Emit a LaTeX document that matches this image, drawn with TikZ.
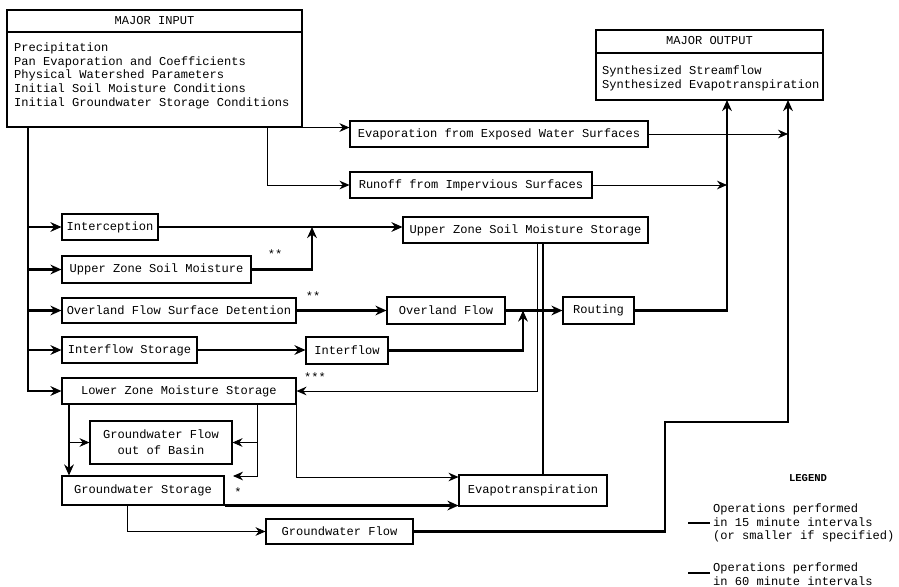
\documentclass[tikz,border=0pt]{standalone}
\usepackage{fontspec}
\setmonofont{Liberation Mono}
\usepackage{tikz}
\usetikzlibrary{arrows.meta,positioning,calc}

\begin{document}
\begin{tikzpicture}[x=0.03cm,y=-0.03cm,
	font=\fontsize{10.3}{11.7}\selectfont\ttfamily,
	box/.style={draw,line width=0.9pt,inner sep=0pt,minimum height=0.78cm},
	fat/.style={line width=2.2pt,-{Stealth[length=3.3mm,width=2.9mm]}},
	lean/.style={line width=0.8pt,-{Stealth[length=3mm,width=2.6mm]}},
	]
	\useasboundingbox (0,0) rectangle (899,586);

	% input and output
	\node[box,minimum width=8.85cm,minimum height=3.51cm] (input) at (154.5,68.5) {};
	\node (intitle) at (154.5,21) {MAJOR INPUT};
	\coordinate (indiv) at (0,32);
	\draw[line width=0.9pt] (input.west |- indiv) -- (input.east |- indiv);
	\node[anchor=north west,align=left,inner sep=0pt] (inlist) at (14,42.5) {Precipitation\\Pan Evaporation and Coefficients\\Physical Watershed Parameters\\Initial Soil Moisture Conditions\\Initial Groundwater Storage Conditions};

	\node[box,minimum width=6.81cm,minimum height=2.1cm] (output) at (709.5,65) {};
	\node (outtitle) at (709.5,41) {MAJOR OUTPUT};
	\coordinate (outdiv) at (0,53);
	\draw[line width=0.9pt] (output.west |- outdiv) -- (output.east |- outdiv);
	\node[anchor=north west,align=left,inner sep=0pt] (outlist) at (602,65.5) {Synthesized Streamflow\\Synthesized Evapotranspiration};

	% process boxes
	\node[box,minimum width=8.94cm] (evap) at (499,134) {Evaporation from Exposed Water Surfaces};
	\node[box,minimum width=7.26cm] (runoff) at (471,185) {Runoff from Impervious Surfaces};
	\node[box,minimum width=2.88cm] (icp) at (110,227) {Interception};
	\node[box,minimum width=7.35cm] (uzs) at (525.5,230) {Upper Zone Soil Moisture Storage};
	\node[box,minimum width=5.67cm,minimum height=0.81cm] (uzm) at (156.5,269.5) {Upper Zone Soil Moisture};
	\node[box,minimum width=7.02cm,minimum height=0.75cm] (ofd) at (179,310.5) {Overland Flow Surface Detention};
	\node[box,minimum width=3.54cm,minimum height=0.81cm] (olf) at (446,310.5) {Overland Flow};
	\node[box,minimum width=2.13cm,minimum height=0.81cm] (rout) at (598.5,310.5) {Routing};
	\node[box,minimum width=4.05cm] (ifs) at (129.5,350) {Interflow Storage};
	\node[box,minimum width=2.46cm,minimum height=0.81cm] (ifl) at (347,350.5) {Interflow};
	\node[box,minimum width=7.02cm] (lzs) at (179,391) {Lower Zone Moisture Storage};
	\node[box,minimum width=4.26cm,minimum height=1.29cm,align=center] (gwb) at (161,442.5) {Groundwater Flow\\[1.9pt]out of Basin};
	\node[box,minimum width=4.86cm,minimum height=0.87cm] (gws) at (143,490.5) {Groundwater Storage};
	\node[box,minimum width=4.44cm,minimum height=0.93cm] (evt) at (533,490.5) {Evapotranspiration};
	\node[box,minimum width=4.41cm,minimum height=0.75cm] (gwf) at (339.5,531.5) {Groundwater Flow};

	\node (s1) at (275,254) {**};
	\node (s2) at (313,296) {**};
	\node (s3) at (315,377) {***};
	\node (s4) at (238,492) {*};

	% input bus
	\coordinate (bus) at (28,127);
	\draw[fat] (bus) |- (lzs.west);
	\foreach \n in {icp,uzm,ofd,ifs}
		\draw[fat] (bus |- \n.west) -- (\n.west);

	\coordinate (split) at (267,127);
	\coordinate (sf) at (727,100);
	\coordinate (et) at (788,100);
	\draw[lean] (input.south east) -- (evap.west |- input.south east);
	\draw[lean] (split) |- (runoff.west);
	\draw[lean] (evap.east) -- (et |- evap.east);
	\draw[lean] (runoff.east) -- (sf |- runoff.east);

	% surface and upper zone
	\coordinate (j1) at (312,227);
	\coordinate (j2) at (523,310.5);
	\draw[fat] (icp.east) -- (uzs.west |- icp.east);
	\draw[fat] (uzm.east) -| (j1);
	\draw[fat] (ofd.east) -- (olf.west);
	\draw[fat] (olf.east) -- (rout.west);
	\draw[fat] (ifs.east) -- (ifl.west |- ifs.east);
	\draw[fat] (ifl.east) -| (j2);
	\draw[fat] (rout.east) -| (sf);

	\coordinate (d1) at (537,243);
	\coordinate (d2) at (543,243);
	\draw[lean] (d1) |- (lzs.east);
	\draw[line width=1.3pt] (d2) -- (d2 |- evt.north);

	% lower zone and groundwater
	\coordinate (g1) at (69,404);
	\coordinate (g2) at (257,404);
	\coordinate (g3) at (233,476);
	\coordinate (e1) at (0,477);
	\coordinate (g5) at (127,505);
	\coordinate (c1) at (665,422);
	\draw[fat] (g1) -- (g1 |- gws.north);
	\draw[lean] (g1 |- gwb.west) -- (gwb.west);
	\draw[lean] (g2) |- (g3);
	\draw[lean] (g2 |- gwb.east) -- (gwb.east);
	\draw[lean] (lzs.south east) |- (evt.west |- e1);
	\draw[fat] (gws.south east) -- (evt.west |- gws.south east);
	\draw[lean] (g5) |- (gwf.west);
	\draw[fat] (gwf.east) -| (c1) -| (et);

	% legend
	\node[font=\fontsize{9}{11}\selectfont\ttfamily\bfseries] (legend) at (808,478) {LEGEND};
	\node[anchor=west,align=left,inner sep=0pt] (lg1) at (713,523) {Operations performed\\in 15 minute intervals\\(or smaller if specified)};
	\node[anchor=west,align=left,inner sep=0pt] (lg2) at (713,574) {Operations performed\\in 60 minute intervals};
	\coordinate (k1) at (688,523);
	\coordinate (k2) at (688,573);
	\draw[line width=2.2pt] (k1) -- ++(22,0);
	\draw[line width=0.9pt] (k2) -- ++(22,0);
\end{tikzpicture}
\end{document}
